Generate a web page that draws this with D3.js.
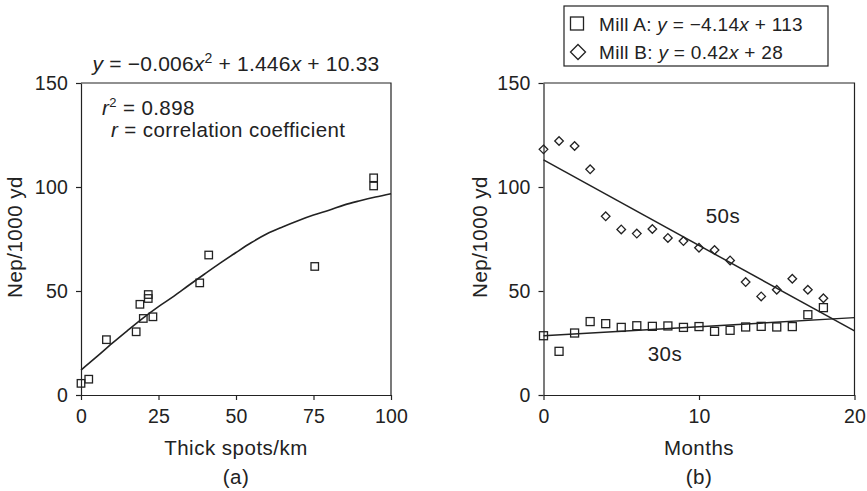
<!DOCTYPE html>
<html><head><meta charset="utf-8">
<script src="https://cdn.jsdelivr.net/npm/d3@7"></script>
<style>
html,body{margin:0;padding:0;background:#fff;}
text{font-family:"Liberation Sans",Arial,Helvetica,sans-serif;fill:#222;}
</style></head>
<body>
<svg id="chart" width="867" height="491"></svg>
<script>
// ---------- data ----------
// Panel (a)
const thickSpots = [0, 2.5, 8.2, 17.8, 19.0, 20.1, 21.7, 21.7, 23.2, 38.3, 41.2, 75.4, 94.4, 94.4];
const nepA       = [5.6, 7.6, 26.6, 30.4, 43.6, 36.8, 48.3, 46.4, 37.6, 53.9, 67.3, 61.8, 104.4, 100.5];
const fitX       = [0, 5, 10, 15, 20, 25, 30, 35, 40, 45, 50, 55, 60, 65, 70, 75, 80, 85, 90, 95, 100];
const fitY       = [12, 18.3, 24.8, 31, 37, 42.5, 47.5, 53, 58.3, 63.5, 68.5, 73.3, 77.5, 80.8, 83.8, 86.5, 88.8, 91.4, 93.4, 95.2, 96.8];
const xTicksA    = [0, 25, 50, 75, 100];
const yTicks     = [0, 50, 100, 150];
// Panel (b)
const months     = [0, 1, 2, 3, 4, 5, 6, 7, 8, 9, 10, 11, 12, 13, 14, 15, 16, 17, 18];
const nep50s     = [118.1, 122.1, 119.7, 108.5, 85.9, 79.6, 77.6, 79.8, 75.5, 74, 70.8, 69.7, 64.7, 54.3, 47.4, 50.6, 55.9, 50.6, 46.5];
const nep30s     = [28.5, 21, 29.8, 35.3, 34.3, 32.5, 33.3, 33, 33.2, 32.5, 32.9, 30.6, 31.1, 32.7, 33, 32.7, 32.9, 38.6, 42];
const trendX     = [0, 20];
const trend50s   = [113, 30.8];
const trend30s   = [28.5, 37.2];
const xTicksB    = [0, 10, 20];

const INK = "#222";
const svg = d3.select("#chart");

function frame(g, x, y) {
  const [x0, x1] = x.range(), [y0, y1] = y.range();
  g.append("path").attr("d", `M${x0},${y1}H${x1}V${y0}`)
    .attr("fill", "none").attr("stroke", INK).attr("stroke-width", 1.2);
}
function axes(x, y, xt, yt) {
  const gx = svg.append("g").attr("transform", `translate(0,${y.range()[0]})`)
    .call(d3.axisBottom(x).tickValues(xt).tickSize(5).tickSizeOuter(0).tickPadding(9));
  const gy = svg.append("g").attr("transform", `translate(${x.range()[0]},0)`)
    .call(d3.axisLeft(y).tickValues(yt).tickSize(5).tickSizeOuter(0).tickPadding(8));
  [gx, gy].forEach(g => {
    g.selectAll("path,line").attr("stroke", INK).attr("stroke-width", 1.2);
    g.selectAll("text").style("font-size", "19.5px").style("letter-spacing", "0.2px").attr("fill", INK);
  });
}
function sq(g, cx, cy, s) {
  g.append("rect").attr("x", cx - s / 2).attr("y", cy - s / 2).attr("width", s).attr("height", s)
    .attr("fill", "none").attr("stroke", INK).attr("stroke-width", 1.3);
}
function dia(g, cx, cy, r) {
  g.append("path").attr("d", `M${cx},${cy - r}L${cx + r},${cy}L${cx},${cy + r}L${cx - r},${cy}Z`)
    .attr("fill", "none").attr("stroke", INK).attr("stroke-width", 1.3);
}
function label(txt, x, y, size, anchor, rot) {
  const t = svg.append("text").attr("text-anchor", anchor || "middle")
    .style("font-size", size + "px").style("letter-spacing", "0.5px").text(txt);
  t.attr("transform", `translate(${x},${y})` + (rot ? ` rotate(${rot})` : ""));
  return t;
}

// ---------- Panel (a) ----------
const xa = d3.scaleLinear().domain([0, 100]).range([81, 391]);
const ya = d3.scaleLinear().domain([0, 150]).range([395, 83]);
frame(svg.append("g"), xa, ya);
axes(xa, ya, xTicksA, yTicks);

svg.append("path").datum(fitX.map((d, i) => [d, fitY[i]]))
  .attr("d", d3.line().x(d => xa(d[0])).y(d => ya(d[1])).curve(d3.curveMonotoneX))
  .attr("fill", "none").attr("stroke", INK).attr("stroke-width", 1.6);
const ga = svg.append("g");
thickSpots.forEach((d, i) => sq(ga, xa(d), ya(nepA[i]), 7.5));

// equation
const eq = svg.append("text").attr("x", 236).attr("y", 71).attr("text-anchor", "middle")
  .style("font-size", "21px").style("letter-spacing", "0.2px");
eq.append("tspan").style("font-style", "italic").text("y");
eq.append("tspan").text(" = \u22120.006");
eq.append("tspan").style("font-style", "italic").text("x");
eq.append("tspan").attr("dy", -8).style("font-size", "14px").text("2");
eq.append("tspan").attr("dy", 8).text(" + 1.446");
eq.append("tspan").style("font-style", "italic").text("x");
eq.append("tspan").text(" + 10.33");

const r2 = svg.append("text").attr("x", 102).attr("y", 115).style("font-size", "20.5px").style("letter-spacing", "0.4px");
r2.append("tspan").style("font-style", "italic").text("r");
r2.append("tspan").attr("dy", -8).style("font-size", "13px").text("2");
r2.append("tspan").attr("dy", 8).text(" = 0.898");
const rc = svg.append("text").attr("x", 111).attr("y", 137).style("font-size", "20.5px").style("letter-spacing", "0.4px");
rc.append("tspan").style("font-style", "italic").text("r");
rc.append("tspan").text(" = correlation coefficient");

label("Thick spots/km", 236, 455, 20.5);
label("(a)", 236, 484, 20.5);
label("Nep/1000 yd", 22, 237, 20.5, "middle", -90);

// ---------- Panel (b) ----------
const xb = d3.scaleLinear().domain([0, 20]).range([543.5, 854.5]);
const yb = d3.scaleLinear().domain([0, 150]).range([395, 83]);
frame(svg.append("g"), xb, yb);
axes(xb, yb, xTicksB, yTicks);

const lineB = d3.line().x(d => xb(d[0])).y(d => yb(d[1]));
[trend50s, trend30s].forEach(tr => {
  svg.append("path").datum(trendX.map((d, i) => [d, tr[i]])).attr("d", lineB)
    .attr("fill", "none").attr("stroke", INK).attr("stroke-width", 1.5);
});
const gb = svg.append("g");
months.forEach((m, i) => dia(gb, xb(m), yb(nep50s[i]), 4.3));
months.forEach((m, i) => sq(gb, xb(m), yb(nep30s[i]), 8));

label("50s", 723, 223, 20.5);
label("30s", 665, 361, 20.5);
label("Months", 699, 455, 20.5);
label("(b)", 699, 484, 20.5);
label("Nep/1000 yd", 487, 237, 20.5, "middle", -90);

// legend
const lg = svg.append("g");
lg.append("rect").attr("x", 564).attr("y", 6).attr("width", 264).attr("height", 60)
  .attr("fill", "none").attr("stroke", INK).attr("stroke-width", 1.2);
sq(lg, 577, 23.5, 13);
dia(lg, 578, 52, 7.5);
const l1 = lg.append("text").attr("x", 599).attr("y", 30.5).style("font-size", "19px").style("letter-spacing", "0.3px");
l1.append("tspan").text("Mill A: ");
l1.append("tspan").style("font-style", "italic").text("y");
l1.append("tspan").text(" = \u22124.14");
l1.append("tspan").style("font-style", "italic").text("x");
l1.append("tspan").text(" + 113");
const l2 = lg.append("text").attr("x", 599).attr("y", 58.5).style("font-size", "19px").style("letter-spacing", "0.3px");
l2.append("tspan").text("Mill B: ");
l2.append("tspan").style("font-style", "italic").text("y");
l2.append("tspan").text(" = 0.42");
l2.append("tspan").style("font-style", "italic").text("x");
l2.append("tspan").text(" + 28");
</script>
</body></html>
